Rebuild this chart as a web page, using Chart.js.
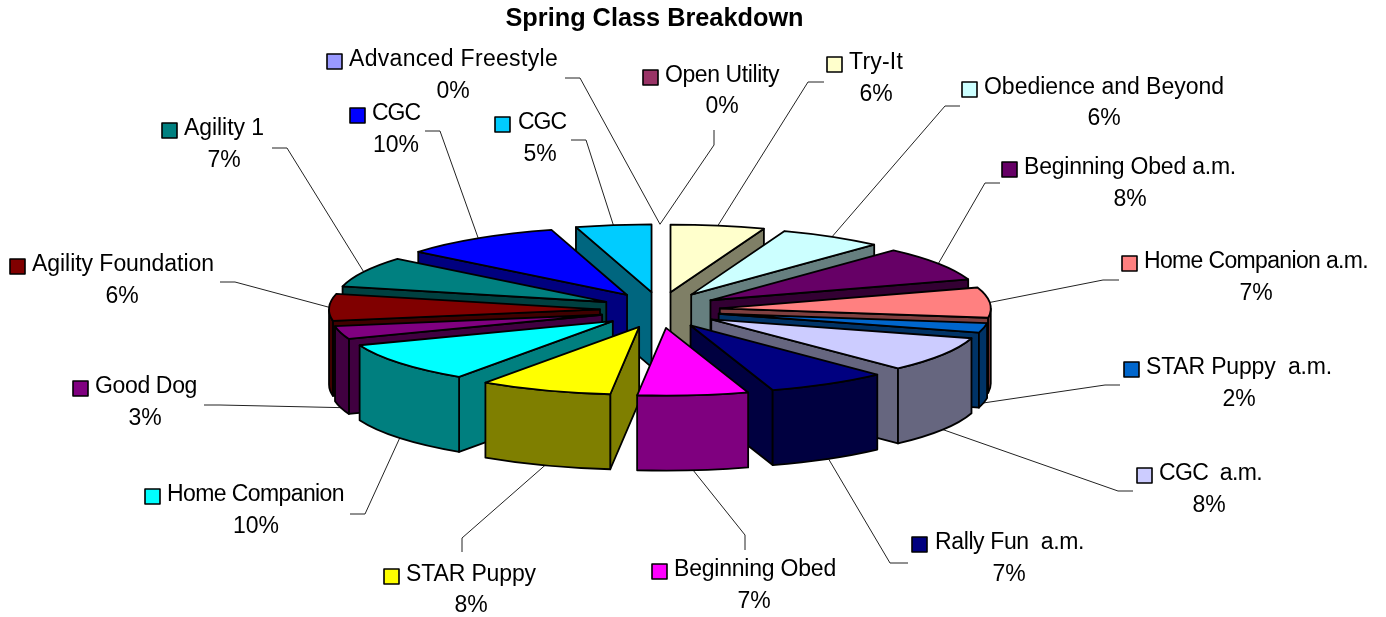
<!DOCTYPE html>
<html>
<head>
<meta charset="utf-8">
<style>html,body{margin:0;padding:0;background:#fff}canvas{display:block}</style>
<script src="https://cdn.jsdelivr.net/npm/chart.js@4"></script>
</head>
<body>
<canvas id="c" width="1386" height="617"></canvas>
<script>
const chartTitle = 'Spring Class Breakdown';
const classNames = ['Open Utility','Try-It','Obedience and Beyond','Beginning Obed a.m.','Home Companion a.m.','STAR Puppy  a.m.','CGC  a.m.','Rally Fun  a.m.','Beginning Obed','STAR Puppy','Home Companion','Good Dog','Agility Foundation','Agility 1','CGC','CGC','Advanced Freestyle'];
const classShares = [0,5.6,6.2,8.2,7.2,2.3,8.4,7.2,6.6,7.9,9.6,3.1,6.4,7.3,9.5,4.5,0];
const sliceColors = ['#993366','#FFFFCC','#CCFFFF','#660066','#FF8080','#0066CC','#CCCCFF','#000080','#FF00FF','#FFFF00','#00FFFF','#800080','#800000','#008080','#0000FF','#00CCFF','#9999FF'];

// Label layout: key left, line-1 centre y, text left, percent centre x, percent centre y
const labelBoxes = [
 [643,76,665,722,107],[827,63,849,876,95],[962,88,984,1104,119],[1002,168,1024,1130,200],
 [1122,262,1144,1256,294],[1124,368,1146,1239,400],[1137,474,1159,1209,506],[912,543,935,1009,575],
 [652,570,674,754,602],[384,575,406,471,606],[145,495,167,256,527],[73,387,95,145,419],
 [10,265,32,122,297],[162,129,184,224,161],[350,114,372,396,146],[495,123,518,540,155],[327,60,349,453,92]
];
const labelWidths = [114,54,240,212,224,186,103,149,162,130,177,102,182,80,48,48,209];
// Leader bends, from the slice outward
const leaderBends = [
 [[714,145],[714,130]],[[808,82],[824,82]],[[945,106],[960,106]],[[985,183],[1000,183]],
 [[1103,280],[1119,280]],[[1105,385],[1120,385]],[[1118,491],[1133,491]],[[890,563],[908,563]],
 [[745,535],[745,550]],[[462,538],[462,552]],[[365,514],[350,514]],[[220,405],[204,405]],
 [[235,282],[220,282]],[[287,148],[272,148]],[[440,131],[425,131]],[[586,140],[571,140]],[[580,78],[565,78]]
];
const pieCentre = {x:660,y:310}, pieRadius = 271, tilt = 0.25, wallDepth = 75, explodeX = 60, explodeY = 18;

const darken = hex => '#' + [1,3,5].map(i => Math.floor(parseInt(hex.substr(i,2),16)/2).toString(16).padStart(2,'0')).join('');

let currentR = pieRadius;
function tipOf(el){
  const mid = (el.startAngle + el.endAngle)/2;
  return {x: pieCentre.x + explodeX*Math.cos(mid), y: pieCentre.y + explodeY*Math.sin(mid), mid};
}
function pointOn(t, a){
  return {x: t.x + currentR*Math.cos(a), y: t.y + currentR*tilt*Math.sin(a)};
}
function drawWall(ctx, t, a, color){
  const p = pointOn(t,a);
  ctx.beginPath();
  ctx.moveTo(t.x,t.y); ctx.lineTo(p.x,p.y); ctx.lineTo(p.x,p.y+wallDepth); ctx.lineTo(t.x,t.y+wallDepth);
  ctx.closePath();
  ctx.fillStyle = color; ctx.fill(); ctx.stroke();
}
function drawRim(ctx, t, a0, a1, color){
  const norm = a => { let v = a % (2*Math.PI); if (v<0) v += 2*Math.PI; return v; };
  let s = norm(a0), e = s + (a1-a0);
  [[0,Math.PI],[2*Math.PI,3*Math.PI]].forEach(([lo,hi])=>{
    const from = Math.max(s,lo), to = Math.min(e,hi);
    if (to <= from) return;
    const ry = currentR*tilt;
    ctx.beginPath();
    ctx.ellipse(t.x,t.y,currentR,ry,0,from,to,false);
    ctx.ellipse(t.x,t.y+wallDepth,currentR,ry,0,to,from,true);
    ctx.closePath();
    ctx.fillStyle = color; ctx.fill(); ctx.stroke();
  });
}

const tiltedPie = {
  id:'tiltedPie',
  beforeDatasetsDraw(chart){
    const ctx = chart.ctx, els = chart.getDatasetMeta(0).data;
    currentR = els[0].outerRadius;
    ctx.save();
    // leaders
    ctx.strokeStyle = '#222'; ctx.lineWidth = 1;
    els.forEach((el,i)=>{
      const t = tipOf(el), p = pointOn(t,t.mid);
      const y0 = p.y + (Math.sin(t.mid) > 0.05 ? wallDepth : 0);
      ctx.beginPath(); ctx.moveTo(p.x,y0);
      leaderBends[i].forEach(b=>ctx.lineTo(b[0],b[1]));
      ctx.stroke();
    });
    // slices, back to front
    const order = els.map((el,i)=>i).filter(i=>classShares[i]>0)
      .sort((a,b)=>Math.sin(tipOf(els[a]).mid)-Math.sin(tipOf(els[b]).mid));
    ctx.lineJoin = 'round'; ctx.lineWidth = 1.8; ctx.strokeStyle = '#000';
    order.forEach(i=>{
      const el = els[i], t = tipOf(el), a0 = el.startAngle, a1 = el.endAngle, wall = darken(sliceColors[i]);
      if (Math.cos(a0) < 0) drawWall(ctx,t,a0,wall);
      if (Math.cos(a1) > 0) drawWall(ctx,t,a1,wall);
      drawRim(ctx,t,a0,a1,wall);
      // the top face: the library's own arc, tilted
      ctx.save();
      ctx.translate(t.x,t.y); ctx.scale(1,tilt); ctx.translate(-el.x,-el.y);
      el.draw(ctx);
      ctx.restore();
      ctx.beginPath();
      ctx.moveTo(t.x,t.y);
      ctx.ellipse(t.x,t.y,currentR,currentR*tilt,0,a0,a1,false);
      ctx.closePath();
      ctx.stroke();
    });
    // labels
    ctx.textBaseline = 'middle';
    ctx.font = '23px "Liberation Sans", Arial, sans-serif';
    els.forEach((el,i)=>{
      const b = labelBoxes[i];
      ctx.fillStyle = sliceColors[i]; ctx.strokeStyle = '#000'; ctx.lineWidth = 1.6;
      ctx.fillRect(b[0],b[1]-6,15,15); ctx.strokeRect(b[0],b[1]-6,15,15);
      ctx.fillStyle = '#000';
      ctx.textAlign = 'left';
      ctx.letterSpacing = '0px';
      const name = classNames[i];
      const extra = (labelWidths[i] - ctx.measureText(name).width) / name.length;
      ctx.letterSpacing = extra.toFixed(3) + 'px';
      ctx.fillText(name,b[2],b[1]);
      ctx.letterSpacing = '0px';
      ctx.textAlign = 'center';
      ctx.fillText(Math.round(classShares[i])+'%',b[3],b[4]);
    });
    ctx.restore();
    return false;
  }
};

new Chart(document.getElementById('c'),{
  type:'pie',
  data:{labels:classNames,datasets:[{data:classShares,backgroundColor:sliceColors,borderWidth:0,offset:0}]},
  options:{
    responsive:false,animation:false,radius:pieRadius,
    layout:{padding:{left:0,right:77,top:0,bottom:0}},
    plugins:{
      legend:{display:false},tooltip:{enabled:false},
      title:{display:true,text:chartTitle,color:'#000',padding:{top:4,bottom:4},
        font:{family:'"Liberation Sans", Arial, sans-serif',size:25.3,weight:'bold'}}
    }
  },
  plugins:[tiltedPie]
});
</script>
</body>
</html>
